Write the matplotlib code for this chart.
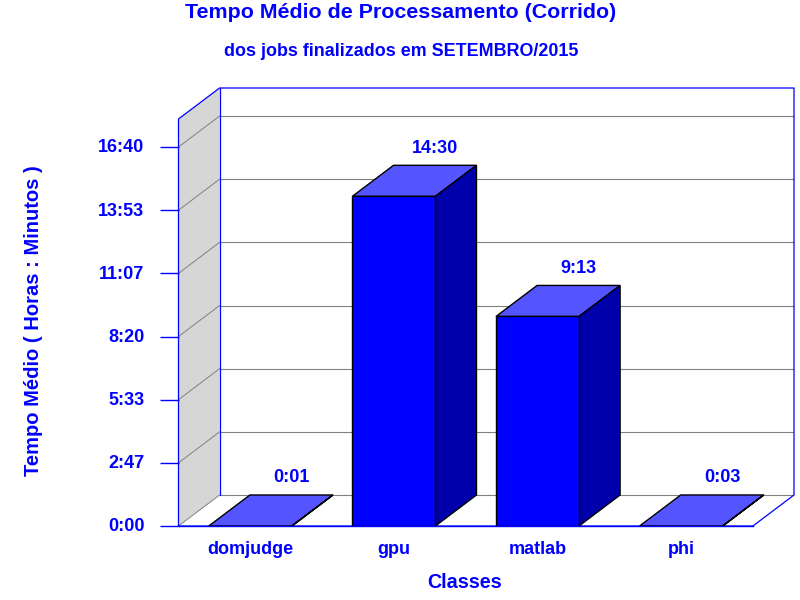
import matplotlib
matplotlib.use('Agg')
import matplotlib.pyplot as plt
from matplotlib.transforms import ScaledTranslation

plt.rcParams['font.family'] = ['Liberation Sans', 'DejaVu Sans']
plt.rcParams['font.weight'] = 'bold'

classes = ['domjudge', 'gpu', 'matlab', 'phi']
# average time in minutes
minutes = [1 / 60, 870, 553, 3 / 60]
value_labels = ['0:01', '14:30', '9:13', '0:03']
tick_minutes = [0, 166.67, 333.33, 500, 666.67, 833.33, 1000]
tick_labels = ['0:00', '2:47', '5:33', '8:20', '11:07', '13:53', '16:40']

BLUE = '#0000ff'
GRID = '#808080'
depth_x = 0.286   # 3d offset in category units
depth_y = 81.8    # 3d offset in minutes
bar_w = 0.578
left, right = -0.5, 3.5
top_front = 1074

fig = plt.figure(figsize=(8, 6), dpi=100)
ax = fig.add_axes([178.5 / 800, 74 / 600, 615.5 / 800, 438 / 600])
ax.set_xlim(left, right + depth_x)
ax.set_ylim(0, top_front + depth_y)
for s in ax.spines.values():
    s.set_visible(False)
ax.patch.set_visible(False)

# left wall
ax.fill([left, left + depth_x, left + depth_x, left],
        [0, depth_y, top_front + depth_y, top_front],
        facecolor='#d6d6d6', edgecolor='none', zorder=1)

# grid lines on back wall and left wall
for t in tick_minutes:
    ax.plot([left, left + depth_x], [t, t + depth_y], color=GRID, lw=0.7, zorder=2)
    ax.plot([left + depth_x, right + depth_x], [t + depth_y, t + depth_y], color=GRID, lw=0.8, zorder=2)

# frame
ax.plot([left, left, left + depth_x, right + depth_x, right + depth_x, right, left],
        [0, top_front, top_front + depth_y, top_front + depth_y, depth_y, 0, 0],
        color=BLUE, lw=0.9, zorder=3, clip_on=False)
ax.plot([left + depth_x, left + depth_x], [depth_y, top_front + depth_y], color=BLUE, lw=0.9, zorder=3)

# bars
for i, (m, lab) in enumerate(zip(minutes, value_labels)):
    x0 = i - bar_w / 2
    x1 = i + bar_w / 2
    ax.fill([x0, x1, x1 + depth_x, x0 + depth_x], [m, m, m + depth_y, m + depth_y],
            facecolor='#5555ff', edgecolor='black', lw=1.0, zorder=5)
    ax.fill([x1, x1 + depth_x, x1 + depth_x, x1], [0, depth_y, m + depth_y, m],
            facecolor='#0000aa', edgecolor='black', lw=1.0, zorder=5)
    ax.fill([x0, x1, x1, x0], [0, 0, m, m],
            facecolor=BLUE, edgecolor='black', lw=1.0, zorder=6)
    ax.text(i + depth_x, m + depth_y + 45, lab, color=BLUE, fontsize=13,
            ha='center', va='center', zorder=7)

ax.plot([left, right], [0, 0], color=BLUE, lw=1.0, zorder=7, clip_on=False)

ax.set_yticks(tick_minutes, tick_labels, color=BLUE, fontsize=13)
ax.tick_params(axis='y', length=14, width=1.0, color=BLUE, pad=10.5)
ax.set_xticks(range(len(classes)), classes, color=BLUE, fontsize=13)
ax.tick_params(axis='x', length=0, pad=10.5)
# tick labels sit slightly above their ticks
shift = ScaledTranslation(0, 0.8 / 72, fig.dpi_scale_trans)
for lab in ax.get_yticklabels():
    lab.set_transform(lab.get_transform() + shift)

fig.text(401 / 800, 1 - 13 / 600, 'Tempo Médio de Processamento (Corrido)', color=BLUE,
         fontsize=15.4, ha='center', va='center')
fig.text(401 / 800, 1 - 52 / 600, 'dos jobs finalizados em SETEMBRO/2015', color=BLUE,
         fontsize=12.9, ha='center', va='center')
fig.text(465 / 800, 1 - 582 / 600, 'Classes', color=BLUE, fontsize=14.2, ha='center', va='center')
fig.text(34 / 800, 1 - 321 / 600, 'Tempo Médio ( Horas : Minutos )', color=BLUE, fontsize=14.5,
         rotation=90, ha='center', va='center')

fig.savefig('out.png', dpi=100)
